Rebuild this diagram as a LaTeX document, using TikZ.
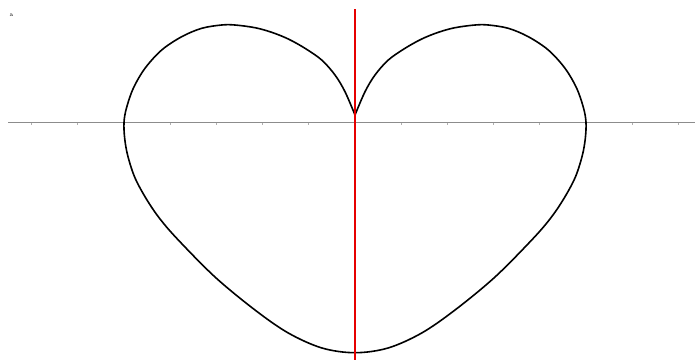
\documentclass[tikz,border=0pt]{standalone}
\definecolor{axisgray}{RGB}{140,140,140}
\definecolor{plotred}{RGB}{230,0,0}
\tikzset{
  axisline/.style={draw=axisgray, line width=0.9pt},
  tickmark/.style={draw=axisgray!70, line width=0.7pt},
  heart/.style={draw=black, line width=1.6pt, line join=round},
  redline/.style={draw=plotred, line width=2.4pt},
  lbl/.style={inner sep=0pt, font=\fontsize{6}{7}\selectfont}
}
\begin{document}
\begin{tikzpicture}[x=1pt,y=-1pt]
\useasboundingbox (0,0) rectangle (695,360);
\fill[white] (0,0) rectangle (695,360);
% coordinates
\coordinate (axL) at (8,122.5);
\coordinate (axR) at (695,122.5);
\coordinate (rTop) at (355,9);
\coordinate (rBot) at (355,360);
% horizontal axis
\draw[axisline] (axL) -- (axR);
\foreach \k in {-7,...,-1,1,2,...,7}
  \draw[tickmark] ({355+46.2*\k},122.5) -- ++(0,2.5);
% heart curve
\draw[heart] plot[smooth, tension=0.55] coordinates {
 (355,115) (365,91.7) (375,75) (388.3,60) (405,48.3) (421.7,39) (438.3,32.3)
 (455,27.7) (475,25) (488.3,25) (508.3,28.3) (528.3,36.7) (548.3,50)
 (565,68.3) (576.7,88.3) (583.6,108.3) (586,122.5) (585.3,138.5) (582.3,155.5)
 (575.5,176.7) (565,196.7) (551.7,216.7) (533.3,238.3) (495,277) (455,310)
 (421.7,333) (388,348) (355,352.7)
 (322,348) (288.3,333) (255,310) (215,277) (176.7,238.3) (158.3,216.7)
 (145,196.7) (134.5,176.7) (127.7,155.5) (124.7,138.5) (124,122.5) (126.4,108.3)
 (133.3,88.3) (145,68.3) (161.7,50) (181.7,36.7) (201.7,28.3) (221.7,25)
 (235,25) (255,27.7) (271.7,32.3) (288.3,39) (305,48.3) (321.7,60)
 (335,75) (345,91.7) (355,115)};
% red vertical line
\draw[redline] (rTop) -- (rBot);
% label
\node[lbl] (lblA) at (11.5,15.5) {a};
\end{tikzpicture}
\end{document}
